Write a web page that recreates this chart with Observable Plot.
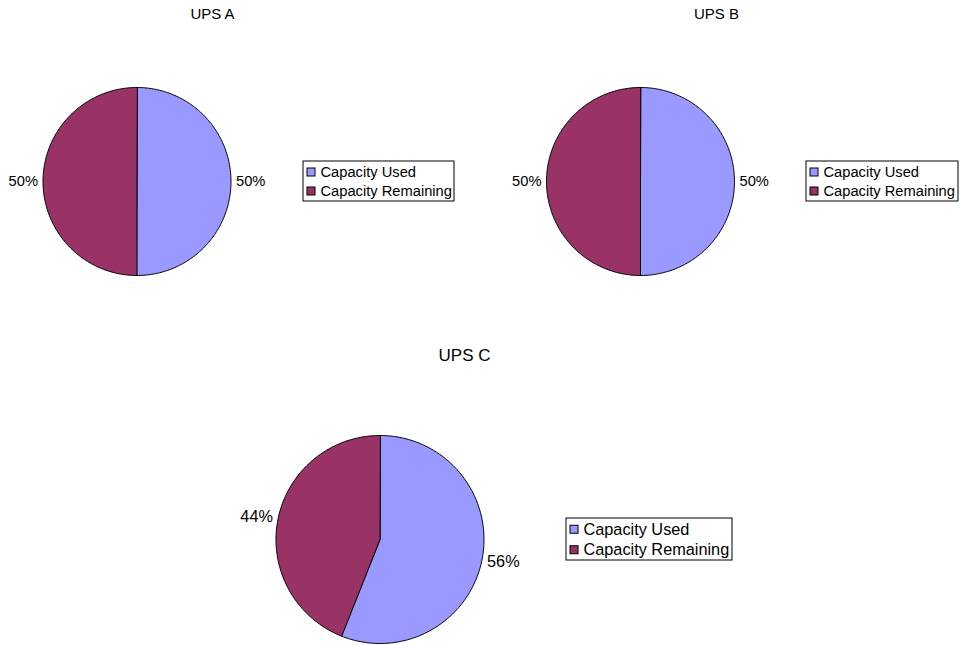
<!DOCTYPE html>
<html><head><meta charset="utf-8">
<script src="https://cdn.jsdelivr.net/npm/d3@7"></script>
<script src="https://cdn.jsdelivr.net/npm/@observablehq/plot@0.6"></script>
<style>body{margin:0;background:#fff}</style>
</head><body><div id="chart"></div>
<script>
// ---- data ----
const upsNames = ["UPS A", "UPS B", "UPS C"];
const categories = ["Capacity Used", "Capacity Remaining"];
const capacityUsed = [50, 50, 56];
const capacityRemaining = [50, 50, 44];
const sliceColors = ["#9999FF", "#993366"];

// ---- layout (positions only) ----
const layout = [
  {cx: 136.5, cy: 181, r: 94, tx: 212, ty: 14, tfs: 15, fs: 14.7, lg: {x: 303, y: 161, w: 151, h: 40, row: 19}},
  {cx: 640, cy: 181, r: 94, tx: 716, ty: 14, tfs: 15, fs: 14.7, lg: {x: 806, y: 161, w: 152, h: 40, row: 19}},
  {cx: 379.5, cy: 539, r: 104, tx: 464, ty: 355, tfs: 17, fs: 16.3, lg: {x: 566, y: 518, w: 166, h: 42, row: 20.5}}
];

const font = "'Liberation Sans', Arial, sans-serif";
const pieGen = d3.pie().sort(null).value(d => d.value);

const marks = [];
upsNames.forEach((name, i) => {
  const L = layout[i];
  const rows = categories.map((c, k) => ({name, category: c, value: k === 0 ? capacityUsed[i] : capacityRemaining[i], color: sliceColors[k]}));
  const total = d3.sum(rows, d => d.value);
  const arcs = pieGen(rows);
  const pts = [];
  const labels = [];
  arcs.forEach((a, k) => {
    const id = name + "-" + k;
    pts.push({id, x: L.cx, y: L.cy, fill: a.data.color});
    const n = Math.max(2, Math.ceil((a.endAngle - a.startAngle) / (Math.PI / 180)));
    for (let j = 0; j <= n; j++) {
      const t = a.startAngle + (a.endAngle - a.startAngle) * j / n;
      pts.push({id, x: L.cx + L.r * Math.sin(t), y: L.cy - L.r * Math.cos(t), fill: a.data.color});
    }
    const mid = (a.startAngle + a.endAngle) / 2;
    const dx = Math.sin(mid), dy = -Math.cos(mid);
    labels.push({
      text: Math.round(a.data.value / total * 100) + "%",
      x: L.cx + (L.r + 5) * dx,
      y: L.cy + (L.r + 5) * dy + 12 * dy,
      anchor: dx >= 0 ? "start" : "end"
    });
  });
  marks.push(Plot.line(pts, {x: "x", y: "y", z: "id", fill: "fill", stroke: "#000", strokeWidth: 1, curve: "linear-closed", strokeLinejoin: "round"}));
  marks.push(Plot.text(labels.filter(d => d.anchor === "start"), {x: "x", y: "y", text: "text", textAnchor: "start", fontSize: L.fs, fill: "#000"}));
  marks.push(Plot.text(labels.filter(d => d.anchor === "end"), {x: "x", y: "y", text: "text", textAnchor: "end", fontSize: L.fs, fill: "#000"}));
  marks.push(Plot.text([name], {x: () => L.tx, y: () => L.ty, text: d => d, fontSize: L.tfs, fill: "#000"}));
  const g = L.lg;
  marks.push(Plot.rect([g], {x1: d => d.x, x2: d => d.x + d.w, y1: d => d.y, y2: d => d.y + d.h, fill: "#fff", stroke: "#000", strokeWidth: 1}));
  const items = rows.map((d, k) => ({
    label: d.category, color: d.color,
    cy: g.y + g.h / 2 + (k - 0.5) * g.row + 0.5
  }));
  marks.push(Plot.rect(items, {x1: () => g.x + 4, x2: () => g.x + 12, y1: d => d.cy - 4, y2: d => d.cy + 4, fill: "color", stroke: "#000", strokeWidth: 1}));
  marks.push(Plot.text(items, {x: () => g.x + 17, y: "cy", text: "label", textAnchor: "start", fontSize: L.fs, fill: "#000"}));
});

const chart = Plot.plot({
  width: 960,
  height: 645,
  margin: 0,
  style: {fontFamily: font, background: "#fff"},
  x: {domain: [0, 960], range: [0, 960], axis: null},
  y: {domain: [0, 645], range: [0, 645], axis: null},
  color: {type: "identity"},
  marks
});
document.getElementById("chart").appendChild(chart);
</script>
</body></html>
